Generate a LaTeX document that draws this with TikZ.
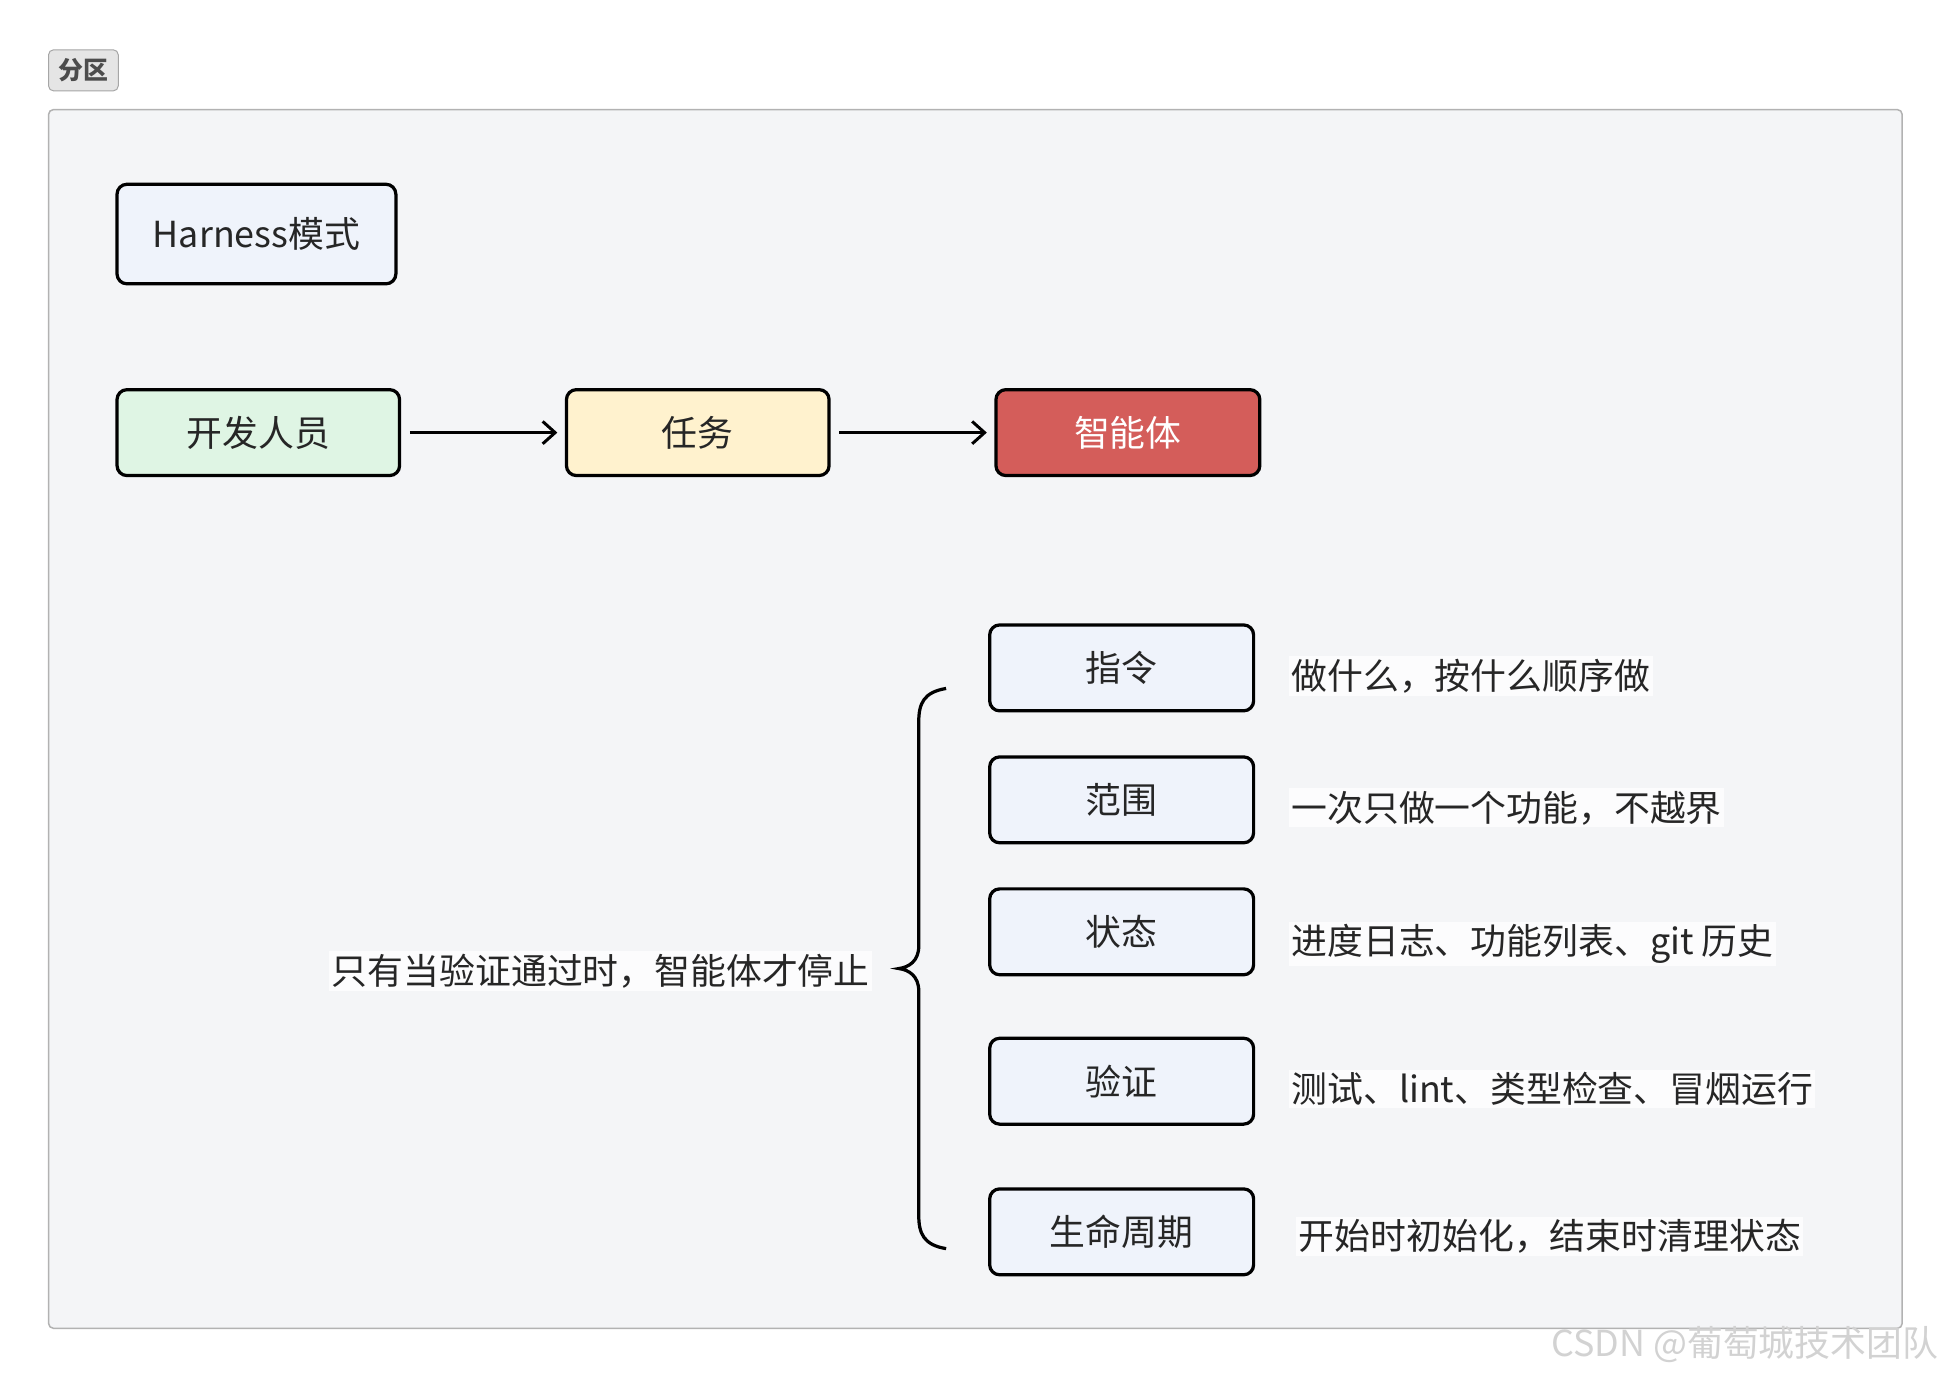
\documentclass[tikz,border=0pt]{standalone}
\usepackage{fontspec}
\usetikzlibrary{arrows.meta}
\setmainfont{Noto Sans CJK SC}
\definecolor{bfill}{HTML}{EFF3FB}
\definecolor{ffill}{HTML}{F4F5F7}
\definecolor{gfill}{HTML}{DFF5E4}
\definecolor{yfill}{HTML}{FFF2CE}
\definecolor{rfill}{HTML}{D45D5A}
\begin{document}
\begin{tikzpicture}[x=0.5pt,y=-0.5pt,
  box/.style={draw=black,line width=1.3pt,rounded corners=4pt,inner sep=0pt,font=\fontsize{14.4}{16}\selectfont,text=black!85},
  lbl/.style={font=\fontsize{14.4}{16}\selectfont,text=black!85,fill=white!70!ffill,inner sep=1pt},
  arr/.style={-{Straight Barb[length=5pt,width=9pt]},line width=1.2pt}]
\useasboundingbox (0,0) rectangle (1568,1104);
\fill[white] (0,0) rectangle (1568,1104);
\node[draw=gray!70,fill=gray!20,rounded corners=2pt,minimum width=28pt,minimum height=16.5pt,inner sep=0pt,font=\bfseries\fontsize{10}{12}\selectfont,text=black!70] (tag) at (67,56.5) {分区};
\node[draw=gray!60,fill=ffill,line width=0.6pt,rounded corners=2pt,minimum width=744.5pt,minimum height=489.5pt] (frame) at (783.5,577.5) {};
\node[box,fill=bfill,minimum width=112pt,minimum height=40pt] (h) at (206,188) {Harness模式};
\node[box,fill=gfill,minimum width=113.5pt,minimum height=34.5pt] (dev) at (207.5,347.5) {开发人员};
\node[box,fill=yfill,minimum width=105.5pt,minimum height=34.5pt] (task) at (560.5,347.5) {任务};
\node[box,fill=rfill,text=white,minimum width=106pt,minimum height=34.5pt] (agent) at (906,347.5) {智能体};
\draw[arr] ([xshift=3.5pt]dev.east) -- ([xshift=-3pt]task.west);
\draw[arr] ([xshift=3.5pt]task.east) -- ([xshift=-3pt]agent.west);
\foreach \n/\t/\y in {a/指令/536.5,b/范围/642.5,c/状态/748.5,d/验证/868.5,e/生命周期/989.5}
  \node[box,fill=bfill,minimum width=106pt,minimum height=34.5pt] (\n) at (901,\y) {\t};
\node[lbl,anchor=west] (la) at (1035,543) {做什么，按什么顺序做};
\node[lbl,anchor=west] (lb) at (1035,649) {一次只做一个功能，不越界};
\node[lbl,anchor=west] (lc) at (1035,758) {进度日志、功能列表、git 历史};
\node[lbl,anchor=west] (ld) at (1035,875) {测试、lint、类型检查、冒烟运行};
\node[lbl,anchor=west] (le) at (1041,993) {开始时初始化，结束时清理状态};
\node[lbl,anchor=east] (stop) at (701,780) {只有当验证通过时，智能体才停止};
\coordinate (bt) at (760,553);
\coordinate (bb) at (760,1003);
\draw[line width=1.3pt] (bt) .. controls (742,556) and (738,565) .. (738,580) -- (738,760) .. controls (738,772) and (730,777) .. (722,778) .. controls (730,779) and (738,784) .. (738,796) -- (738,976) .. controls (738,991) and (742,1000) .. (bb);
\node[anchor=east,font=\fontsize{14.4}{16}\selectfont,text=gray!35] (wm) at (1564,1080) {CSDN @葡萄城技术团队};
\end{tikzpicture}
\end{document}
